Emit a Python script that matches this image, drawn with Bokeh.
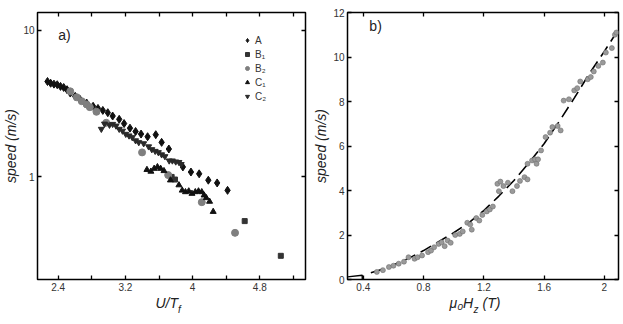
from bokeh.plotting import figure
from bokeh.models import (Range1d, FixedTicker, LinearAxis, LogAxis, Label,
                          Legend, LegendItem)
from bokeh.layouts import row, column
from bokeh.embed import file_html
from bokeh.resources import INLINE

# ---------------- data: panel a ----------------
a_x = [2.272, 2.310, 2.349, 2.388, 2.427, 2.465, 2.505, 2.543, 2.602, 2.660,
       2.738, 2.815, 2.873, 2.931, 2.990, 3.048, 3.126, 3.184, 3.254, 3.321,
       3.386, 3.464, 3.561, 3.631, 3.717, 3.884, 3.980, 4.078, 4.187, 4.292,
       4.416]
a_y = [4.47, 4.35, 4.29, 4.25, 4.14, 4.07, 3.93, 3.73, 3.54, 3.37,
       3.19, 3.03, 2.93, 2.84, 2.74, 2.60, 2.47, 2.31, 2.15, 2.04,
       1.96, 1.88, 1.94, 1.72, 1.55, 1.17, 1.08, 1.05, 0.95, 0.91,
       0.81]

b1_x = [3.75, 3.79, 4.62, 5.05]
b1_y = [1.00, 0.96, 0.50, 0.29]

b2_x = [2.543, 2.621, 2.680, 2.738, 2.776, 2.855, 2.971, 3.398, 3.709, 4.109, 4.505]
b2_y = [3.83, 3.49, 3.28, 3.12, 2.99, 2.78, 2.34, 1.47, 1.03, 0.673, 0.416]

c1_x = [3.456, 3.503, 3.542, 3.581, 3.619, 3.659, 3.736, 3.837, 3.876, 3.915,
        3.954, 3.992, 4.032, 4.070, 4.109, 4.137, 4.163, 4.202, 4.245]
c1_y = [1.12, 1.09, 1.14, 1.17, 1.14, 1.10, 0.95, 0.88, 0.81, 0.79,
        0.80, 0.77, 0.79, 0.80, 0.79, 0.75, 0.72, 0.68, 0.58]

c2_x = [2.913, 2.951, 3.010, 3.048, 3.088, 3.126, 3.165, 3.204, 3.243, 3.281,
        3.321, 3.359, 3.417, 3.476, 3.514, 3.554, 3.592, 3.631, 3.670, 3.721,
        3.759, 3.799, 3.837, 3.864]
c2_y = [2.12, 2.30, 2.26, 2.29, 2.23, 2.12, 2.06, 1.96, 1.91, 1.86,
        1.77, 1.72, 1.69, 1.61, 1.54, 1.50, 1.47, 1.42, 1.38, 1.29,
        1.29, 1.27, 1.26, 1.22]

a_xticks = [2.4, 3.2, 4.0, 4.8]
a_xminor = [2.8, 3.6, 4.4, 5.2]
a_yticks = [1, 10]
legend_labels = ["A", "B\u2081", "B\u2082", "C\u2081", "C\u2082"]

# ---------------- data: panel b ----------------
b_x = [0.49, 0.53, 0.57, 0.60, 0.635, 0.67, 0.70, 0.74, 0.76, 0.79,
       0.83, 0.85, 0.87, 0.90, 0.92, 0.94, 0.96, 0.98, 1.01, 1.04,
       1.06, 1.09, 1.11, 1.12, 1.15, 1.17, 1.19, 1.22, 1.24, 1.26,
       1.29, 1.30, 1.31, 1.33, 1.36, 1.39, 1.42, 1.44, 1.47, 1.49,
       1.49, 1.52, 1.54, 1.55, 1.56, 1.58, 1.61, 1.64, 1.655, 1.69,
       1.71, 1.73, 1.765, 1.80, 1.82, 1.84, 1.89, 1.91, 1.93, 1.96,
       1.99, 2.01, 2.05, 2.07, 2.08]
b_y = [0.34, 0.42, 0.56, 0.62, 0.71, 0.80, 1.00, 0.93, 1.00, 1.08,
       1.23, 1.30, 1.45, 1.60, 1.67, 1.50, 1.75, 1.65, 2.00, 2.05,
       2.16, 2.55, 2.47, 2.24, 2.76, 2.65, 2.90, 3.06, 3.15, 3.28,
       4.30, 3.97, 4.40, 4.20, 4.35, 3.97, 4.20, 4.43, 4.60, 4.50,
       5.20, 5.35, 5.40, 5.20, 5.40, 5.80, 6.40, 6.60, 6.85, 6.90,
       6.70, 8.04, 8.10, 8.50, 8.60, 8.90, 9.00, 9.10, 9.35, 9.60,
       9.75, 10.2, 10.4, 11.0, 11.1]

fit_x = [0.45, 0.5, 0.6, 0.7, 0.8, 0.9, 1.0, 1.1, 1.2, 1.3, 1.4, 1.5, 1.6,
         1.7, 1.8, 1.9, 2.0, 2.09]
fit_y = [0.30, 0.40, 0.65, 0.95, 1.30, 1.70, 2.10, 2.55, 3.10, 3.75, 4.45,
         5.25, 6.10, 7.10, 8.15, 9.25, 10.25, 11.2]

edge_x = [0.295, 0.393, 0.393]
edge_y = [0.12, 0.19, 0.0]

b_xticks = [0.4, 0.8, 1.2, 1.6, 2.0]
b_yticks = [0, 2, 4, 6, 8, 10, 12]

FONT = "Liberation Sans"
TICKC = "#333333"
TITLEC = "#222222"


def style_axis(ax, ticks, minor=None, labels=True, overrides=None):
    ax.ticker = FixedTicker(ticks=ticks, minor_ticks=minor or [])
    ax.axis_line_color = None
    ax.major_tick_in = 4
    ax.major_tick_out = 0
    ax.minor_tick_in = 4
    ax.minor_tick_out = 0
    ax.major_tick_line_color = "black"
    ax.minor_tick_line_color = "black"
    ax.major_tick_line_width = 1.3
    ax.minor_tick_line_width = 1.3
    ax.major_label_text_font = FONT
    ax.major_label_text_color = TICKC
    ax.major_label_standoff = 3
    if labels:
        ax.major_label_text_font_size = "10px"
        if overrides:
            ax.major_label_overrides = overrides
    else:
        ax.major_label_text_font_size = "1px"
        ax.major_label_text_color = None
        ax.major_label_standoff = 0


def ytitle(ax, text):
    ax.axis_label = text
    ax.axis_label_text_font = FONT
    ax.axis_label_text_font_size = "14px"
    ax.axis_label_text_font_style = "italic"
    ax.axis_label_text_color = TITLEC
    ax.axis_label_standoff = 1


def label(p, x, y, text, size="14px", italic=True, align="left",
          baseline="middle"):
    p.add_layout(Label(x=x, y=y, text=text, text_font=FONT,
                       text_font_size=size,
                       text_font_style="italic" if italic else "normal",
                       text_color=TITLEC, text_align=align,
                       text_baseline=baseline))


# ---------------- panel a ----------------
pa = figure(width=310, height=295, y_axis_type="log",
            x_range=Range1d(2.153, 5.344), y_range=Range1d(0.2, 13.2),
            output_backend="svg", toolbar_location=None,
            min_border_left=32, min_border_right=5,
            min_border_top=10, min_border_bottom=14)
pa.grid.visible = False
pa.outline_line_color = "black"
pa.outline_line_width = 1.5

style_axis(pa.xaxis[0], a_xticks, a_xminor, overrides={4: "4"})
style_axis(pa.yaxis[0], a_yticks, overrides={1: "1", 10: "10"})
ytitle(pa.yaxis[0], "speed (m/s)")
top_a = LinearAxis()
style_axis(top_a, a_xticks, a_xminor, labels=False)
pa.add_layout(top_a, "above")
right_a = LogAxis()
style_axis(right_a, a_yticks, labels=False)
pa.add_layout(right_a, "right")

rA = pa.scatter(a_x, a_y, marker="diamond", size=8, color="#111111")
rB1 = pa.scatter(b1_x, b1_y, marker="square", size=5, color="#333333")
rB2 = pa.scatter(b2_x, b2_y, marker="circle", size=7, color="#7f7f7f")
rC1 = pa.scatter(c1_x, c1_y, marker="triangle", size=6, color="#111111")
rC2 = pa.scatter(c2_x, c2_y, marker="inverted_triangle", size=6, color="#2a2a2a")

leg = Legend(items=[LegendItem(label=t, renderers=[r]) for t, r in
                    zip(legend_labels, [rA, rB1, rB2, rC1, rC2])],
             location=(205, 177), label_text_font=FONT,
             label_text_font_size="10px", label_text_color="#333333",
             glyph_width=10, glyph_height=12, label_height=12,
             label_standoff=3, spacing=2, padding=0, margin=0,
             background_fill_alpha=0, border_line_color=None)
pa.add_layout(leg)
label(pa, 2.40, 9.25, "a)", italic=False)

# ---------------- panel b ----------------
pb = figure(width=310, height=295,
            x_range=Range1d(0.295, 2.094), y_range=Range1d(0, 12),
            output_backend="svg", toolbar_location=None,
            min_border_left=35, min_border_right=2,
            min_border_top=12, min_border_bottom=16)
pb.grid.visible = False
pb.outline_line_color = "black"
pb.outline_line_width = 1.5

style_axis(pb.xaxis[0], b_xticks, overrides={2: "2"})
style_axis(pb.yaxis[0], b_yticks)
ytitle(pb.yaxis[0], "speed (m/s)")
top_b = LinearAxis()
style_axis(top_b, b_xticks, labels=False)
pb.add_layout(top_b, "above")
right_b = LinearAxis()
style_axis(right_b, b_yticks, labels=False)
pb.add_layout(right_b, "right")

pb.line(fit_x, fit_y, line_color="black", line_width=1.6, line_dash="12 6")
pb.line(edge_x, edge_y, line_color="black", line_width=1.4)
pb.scatter(b_x, b_y, marker="circle", size=5, fill_color="#9a9a9a",
           line_color="#707070", line_width=0.6)
label(pb, 0.44, 11.4, "b)", italic=False)

# ---------------- x-axis titles strip (pixel coordinates) ----------------
strip = figure(width=620, height=27, x_range=Range1d(0, 620),
               y_range=Range1d(0, 27), output_backend="svg",
               toolbar_location=None, x_axis_location=None,
               y_axis_location=None, min_border=0)
strip.grid.visible = False
strip.outline_line_color = None
label(strip, 155, 20, "U/T")
label(strip, 177.5, 13, "f", size="10px")
label(strip, 449, 20, "\u03bc\u2080H")
label(strip, 473, 13, "z", size="10px")
label(strip, 482, 20, "(T)")

layout = column(row(pa, pb), strip)
open("out.html", "w").write(file_html(layout, INLINE))
